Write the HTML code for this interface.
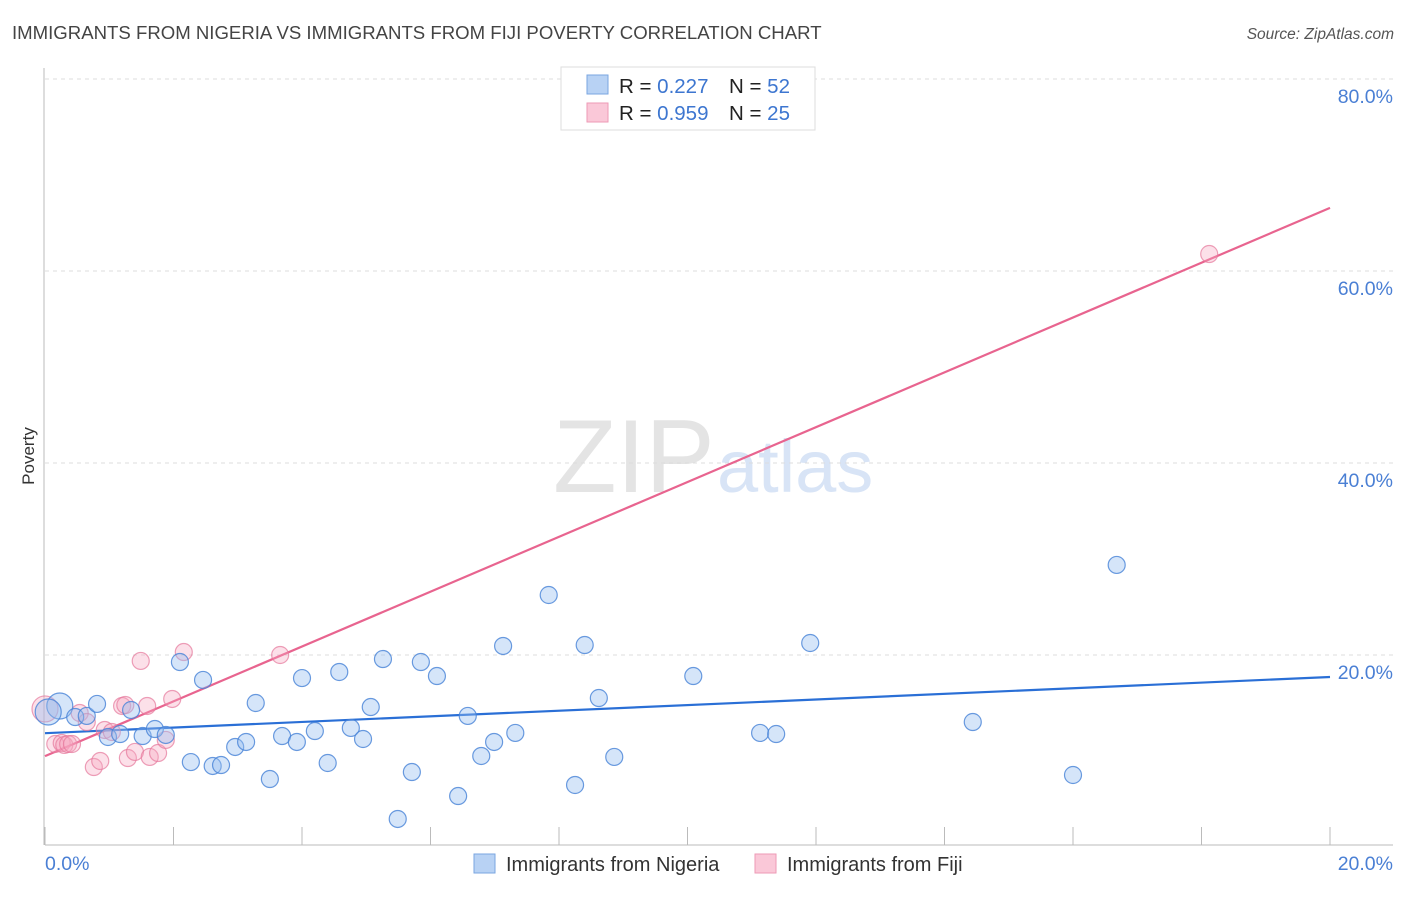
<!DOCTYPE html>
<html><head><meta charset="utf-8"><style>
body{margin:0;background:#fff;font-family:"Liberation Sans",sans-serif;}
svg text{font-family:"Liberation Sans",sans-serif;}
</style></head><body>
<svg id="chart" width="1406" height="892" xmlns="http://www.w3.org/2000/svg">
<text x="12" y="39" font-size="18.6" fill="#444">IMMIGRANTS FROM NIGERIA VS IMMIGRANTS FROM FIJI POVERTY CORRELATION CHART</text>
<text x="1394" y="39" font-size="15.5" fill="#555" text-anchor="end" font-style="italic">Source: ZipAtlas.com</text>
<g>
<text x="553" y="492" font-size="104" fill="#e4e4e4" font-family="Liberation Serif,serif">ZIP</text>
<text x="717" y="492" font-size="74" fill="#d8e4f6">atlas</text>
</g>
<g id="grid"></g>
<g id="axes"></g>
<g id="lines"></g>
<g id="points"></g>
<text transform="translate(34,456) rotate(-90)" font-size="17" fill="#333" text-anchor="middle">Poverty</text>
<g>
<rect x="561" y="67" width="254" height="63" fill="#fff" stroke="#ddd"/>
<rect x="587" y="75" width="21" height="19" fill="#b8d2f4" stroke="#7aa6e0"/>
<rect x="587" y="103" width="21" height="19" fill="#fac8d8" stroke="#ee9ab6"/>
<text x="619" y="93" font-size="20.5" fill="#222">R = <tspan fill="#3d76d0">0.227</tspan></text>
<text x="729" y="93" font-size="20.5" fill="#222">N = <tspan fill="#3d76d0">52</tspan></text>
<text x="619" y="120" font-size="20.5" fill="#222">R = <tspan fill="#3d76d0">0.959</tspan></text>
<text x="729" y="120" font-size="20.5" fill="#222">N = <tspan fill="#3d76d0">25</tspan></text>
</g>
<g>
<rect x="474" y="854" width="21" height="19" fill="#b8d2f4" stroke="#7aa6e0"/>
<text x="506" y="871" font-size="20" fill="#333">Immigrants from Nigeria</text>
<rect x="755" y="854" width="21" height="19" fill="#fac8d8" stroke="#ee9ab6"/>
<text x="787" y="871" font-size="20" fill="#333">Immigrants from Fiji</text>
</g>
</svg>
<script>
const yTicks=[20,40,60,80];
const yTickLabels=["20.0%","40.0%","60.0%","80.0%"];
const xTicks=[0,2,4,6,8,10,12,14,16,18,20];
const xEndLabels=["0.0%","20.0%"];
const nigeriaX=[0.23,0.05,0.47,0.65,0.81,0.98,1.17,1.34,1.52,1.71,1.88,2.10,2.27,2.46,2.61,2.74,2.96,3.13,3.28,3.50,3.69,3.92,4.00,4.20,4.40,4.58,4.76,4.95,5.07,5.26,5.49,5.71,5.85,6.10,6.43,6.58,6.79,6.99,7.13,7.32,7.84,8.25,8.40,8.62,8.86,10.09,11.13,11.38,11.91,14.44,16.00,16.68];
const nigeriaY=[14.69,14.06,13.54,13.65,14.90,11.46,11.77,14.27,11.56,12.29,11.67,19.27,8.85,17.40,8.44,8.54,10.42,10.94,15.00,7.08,11.56,10.94,17.60,12.08,8.75,18.23,12.40,11.25,14.58,19.58,2.92,7.81,19.27,17.81,5.31,13.65,9.48,10.94,20.94,11.88,26.25,6.46,21.04,15.52,9.38,17.81,11.88,11.77,21.25,13.02,7.50,29.38];
const fijiX=[0,0.16,0.26,0.30,0.36,0.42,0.54,0.65,0.76,0.86,0.93,1.04,1.20,1.25,1.29,1.40,1.49,1.59,1.63,1.76,1.88,1.98,2.16,3.66,18.12];
const fijiY=[14.38,10.73,10.83,10.63,10.73,10.73,13.96,13.02,8.33,8.96,12.19,11.98,14.69,14.79,9.27,9.90,19.38,14.69,9.38,9.79,11.15,15.42,20.31,20.00,61.77];
const NS="http://www.w3.org/2000/svg";
const X=v=>45+v*64.25, Y=v=>847-v*9.6;
function mk(t,a,p){const e=document.createElementNS(NS,t);for(const k in a)e.setAttribute(k,a[k]);document.getElementById(p).appendChild(e);return e;}
yTicks.forEach((t,i)=>{
 const g=mk('line',{x1:45,x2:1393,y1:Y(t),y2:Y(t),stroke:'#ddd','stroke-dasharray':'4,4'},'grid');
 
 
 const l=mk('text',{x:1393,y:Y(t)+24,'font-size':19.5,fill:'#4a7fd4','text-anchor':'end'},'axes');
 l.textContent=yTickLabels[i];
 
 
});
const ax=mk('line',{x1:45,x2:1393,y1:845,y2:845,stroke:'#bbb'},'axes');


const ay=mk('line',{x1:44,x2:44,y1:68,y2:845,stroke:'#bbb'},'axes');


xTicks.forEach(t=>{
 const k=mk('line',{x1:X(t),x2:X(t),y1:827,y2:845,stroke:'#bbb'},'axes');
 
 
});
[[0,'start'],[20,'end']].forEach((d,i)=>{
 const l=mk('text',{x:d[0]==0?45:1393,y:870,'font-size':19.5,fill:'#4a7fd4','text-anchor':d[1]},'axes');
 l.textContent=xEndLabels[i];
 
 
});
function reg(xs,ys){const n=xs.length;let mx=0,my=0;xs.forEach((x,i)=>{mx+=x;my+=ys[i];});mx/=n;my/=n;let sxy=0,sxx=0;xs.forEach((x,i)=>{sxy+=(x-mx)*(ys[i]-my);sxx+=(x-mx)*(x-mx);});const b=sxy/sxx;return [my-b*mx,b];}
function series(xs,ys,fill,stroke,line,name){
 xs.forEach((x,i)=>{
  const c=mk('circle',{cx:X(x),cy:Y(ys[i]),r:(i<2&&name=='nigeria')||(i==0&&name=='fiji')?13:8.5,fill:fill,stroke:stroke,'stroke-width':1.2},'points');
  
  
 });
 const [a,b]=reg(xs,ys);
 const l=mk('line',{x1:X(0),y1:Y(a),x2:X(20),y2:Y(a+b*20),stroke:line,'stroke-width':2.2},'lines');
 
 
}
series(fijiX,fijiY,'rgba(245,165,192,0.35)','rgba(230,120,155,0.7)','#e8648f','fiji');
series(nigeriaX,nigeriaY,'rgba(150,190,240,0.4)','rgba(70,130,215,0.8)','#2a6fd6','nigeria');
</script>
</body></html>
